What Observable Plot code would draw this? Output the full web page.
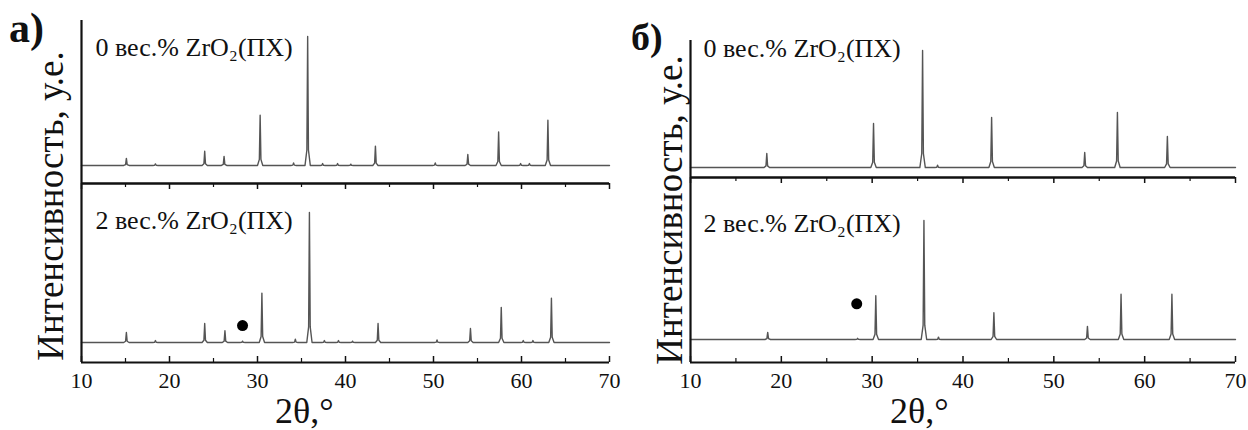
<!DOCTYPE html>
<html><head><meta charset="utf-8">
<script src="https://cdn.jsdelivr.net/npm/d3@7"></script>
<script src="https://cdn.jsdelivr.net/npm/@observablehq/plot@0.6"></script>
<style>
body{margin:0;background:#fff;}
#fig{position:relative;width:1248px;height:430px;overflow:hidden;background:#fff;font-family:'Liberation Serif','Times New Roman',serif;color:#111;}
.abs{position:absolute;white-space:nowrap;line-height:1;}
</style></head><body><div id="fig"></div>
<script>
// ---- axis / text data ----
const xMajorTicks = [10, 20, 30, 40, 50, 60, 70];
const xMinorTicks = [15, 25, 35, 45, 55, 65];
const panelLetters = ["а)", "б)"];
const sampleLabels = ["0 вес.% ZrO₂(ПХ)", "2 вес.% ZrO₂(ПХ)"];
const yTitle = "Интенсивность, у.е.";
const xTitle = "2θ,°";

// ---- panel а), 0 wt.% : peak positions (2θ) and relative intensities ----
const a0Pos = [15.1, 18.4, 24.0, 26.2, 30.3, 34.1, 35.7, 37.4, 39.1, 40.6, 43.4, 50.2, 53.9, 57.4, 59.9, 60.9, 63.0];
const a0Int = [5.5, 1.2, 11, 7, 39, 2, 100, 1.5, 1.5, 1, 15, 2, 8.5, 26, 1.5, 1.5, 35];
// ---- panel а), 2 wt.% ----
const a2Pos = [15.1, 18.4, 24.0, 26.3, 28.3, 30.5, 34.3, 35.9, 37.6, 39.2, 40.8, 43.7, 50.4, 54.2, 57.7, 60.2, 61.3, 63.4];
const a2Int = [7.7, 1.5, 14.6, 9, 1, 38, 2.5, 100, 1.5, 1.5, 1, 14.6, 2, 10.8, 27, 1.5, 1.5, 34];
const a2Marker = [{x: 28.3, y: 13}];
// ---- panel б), 0 wt.% ----
const b0Pos = [18.4, 30.15, 35.55, 37.2, 43.15, 53.4, 57.0, 62.5];
const b0Int = [12, 37.6, 100, 2, 42.7, 12.8, 47, 26.5];
// ---- panel б), 2 wt.% ----
const b2Pos = [18.5, 28.4, 30.4, 35.7, 37.3, 43.4, 53.7, 57.4, 63.0];
const b2Int = [6, 1, 36.7, 100, 2, 22.5, 11, 38, 38];
const b2Marker = [{x: 28.3, y: 30}];

const FONT = "'Liberation Serif', 'Times New Roman', serif";
const LINE = "#555";
const AX = "#111";

// build a stick-like profile table from the read peak list
function profile(pos, inten) {
  const w = 0.3;
  const pts = [{x: 10, y: 0}];
  pos.forEach((p, i) => {
    const h = inten[i];
    pts.push({x: p - w, y: 0}, {x: p - w * 0.3, y: h * 0.12}, {x: p, y: h},
             {x: p + w * 0.3, y: h * 0.12}, {x: p + w, y: 0});
  });
  pts.push({x: 70, y: 0});
  return pts;
}

function makePlot(o) {
  const H = o.height - o.mt - o.mb;
  const marks = [
    Plot.line(profile(o.pos, o.int), {x: "x", y: "y", stroke: LINE, strokeWidth: 1.4}),
    Plot.ruleX([10], {stroke: AX, strokeWidth: 2.2}),
    Plot.ruleY([o.yDomain[0]], {stroke: AX, strokeWidth: 2})
  ];
  if (o.top) {
    marks.push(Plot.ruleY([o.yDomain[1]], {stroke: AX, strokeWidth: 2}));
    marks.push(Plot.ruleX(xMajorTicks, {x: d => d, insetBottom: H - 6, stroke: AX, strokeWidth: 1.5}));
    marks.push(Plot.ruleX(xMinorTicks, {x: d => d, insetBottom: H - 4, stroke: AX, strokeWidth: 1.2}));
  }
  if (o.bottomTicks) {
    marks.push(Plot.ruleX(xMajorTicks, {x: d => d, insetTop: H - 6, stroke: AX, strokeWidth: 1.5}));
    marks.push(Plot.ruleX(xMinorTicks, {x: d => d, insetTop: H - 4, stroke: AX, strokeWidth: 1.2}));
    marks.push(Plot.text(xMajorTicks, {x: d => d, text: d => String(d), frameAnchor: "bottom", dy: 18,
      lineAnchor: "middle", fontSize: 22, fontFamily: FONT, fill: AX}));
  }
  marks.push(Plot.text([o.label], {text: d => d, frameAnchor: "top-left", dx: o.ldx, dy: o.ldy,
    textAnchor: "start", lineAnchor: "middle", fontSize: 26, fontFamily: FONT, fill: AX}));
  if (o.marker) marks.push(Plot.dot(o.marker, {x: "x", y: "y", r: 5.5, fill: "#000", stroke: null}));
  const svg = Plot.plot({
    width: o.width, height: o.height,
    marginLeft: o.ml, marginRight: o.mr, marginTop: o.mt, marginBottom: o.mb,
    x: {domain: [10, 70], axis: null},
    y: {domain: o.yDomain, axis: null},
    style: {background: "transparent", overflow: "visible", fontFamily: FONT},
    marks
  });
  svg.style.position = "absolute";
  svg.style.left = o.left + "px";
  svg.style.top = o.topPx + "px";
  svg.style.maxWidth = "none";
  document.getElementById("fig").appendChild(svg);
}

// panel а) upper: frame x 81..609, y 20..183
makePlot({pos: a0Pos, int: a0Int, yDomain: [-14, 112.4], width: 540, height: 173, ml: 6, mr: 6, mt: 8, mb: 2,
  left: 75, topPx: 12, label: sampleLabels[0], ldx: 14, ldy: 27});
// panel а) lower: frame y 183..362
makePlot({pos: a2Pos, int: a2Int, yDomain: [-15.4, 122.3], width: 548, height: 211, ml: 6, mr: 14, mt: 2, mb: 30,
  left: 75, topPx: 181, label: sampleLabels[1], ldx: 14, ldy: 37, top: true, bottomTicks: true, marker: a2Marker});
// panel б) upper: frame x 690..1235, y 40..177
makePlot({pos: b0Pos, int: b0Int, yDomain: [-8.5, 108.5], width: 557, height: 147, ml: 6, mr: 6, mt: 8, mb: 2,
  left: 684, topPx: 32, label: sampleLabels[0], ldx: 13, ldy: 8});
// panel б) lower: frame y 177..362
makePlot({pos: b2Pos, int: b2Int, yDomain: [-19.3, 136], width: 563, height: 217, ml: 6, mr: 12, mt: 2, mb: 30,
  left: 684, topPx: 175, label: sampleLabels[1], ldx: 13, ldy: 46, top: true, bottomTicks: true, marker: b2Marker});

// html text: panel letters, axis titles
const fig = document.getElementById("fig");
function addText(txt, css) {
  const d = document.createElement("div");
  d.className = "abs";
  d.textContent = txt;
  Object.assign(d.style, css);
  fig.appendChild(d);
}
addText(panelLetters[0], {left: "9px", top: "7px", fontSize: "42px", fontWeight: "bold"});
addText(panelLetters[1], {left: "631px", top: "18px", fontSize: "38px", fontWeight: "bold"});
addText(yTitle, {left: "50px", top: "206px", fontSize: "37px", transform: "translate(-50%,-50%) rotate(-90deg)"});
addText(yTitle, {left: "669px", top: "210px", fontSize: "37px", transform: "translate(-50%,-50%) rotate(-90deg)"});
addText(xTitle, {left: "275px", top: "393px", fontSize: "36px"});
addText(xTitle, {left: "890px", top: "393px", fontSize: "36px"});
</script></body></html>
